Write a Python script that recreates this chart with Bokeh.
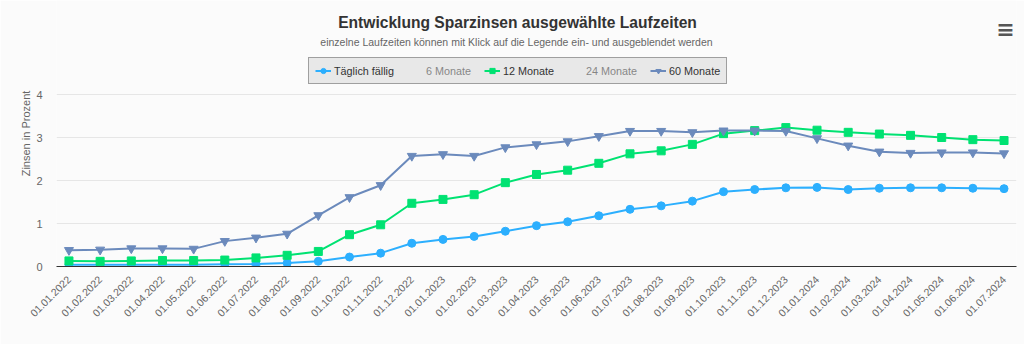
from bokeh.plotting import figure
from bokeh.models import (ColumnDataSource, FactorRange, Range1d, Legend, LegendItem,
                          Label, FixedTicker)
from bokeh.embed import file_html
from bokeh.resources import INLINE
import math

dates = ["01.01.2022", "01.02.2022", "01.03.2022", "01.04.2022", "01.05.2022", "01.06.2022",
         "01.07.2022", "01.08.2022", "01.09.2022", "01.10.2022", "01.11.2022", "01.12.2022",
         "01.01.2023", "01.02.2023", "01.03.2023", "01.04.2023", "01.05.2023", "01.06.2023",
         "01.07.2023", "01.08.2023", "01.09.2023", "01.10.2023", "01.11.2023", "01.12.2023",
         "01.01.2024", "01.02.2024", "01.03.2024", "01.04.2024", "01.05.2024", "01.06.2024",
         "01.07.2024"]

taeglich = [0.04, 0.04, 0.04, 0.04, 0.04, 0.05, 0.06, 0.08, 0.12, 0.22, 0.31, 0.54,
            0.63, 0.70, 0.82, 0.95, 1.04, 1.18, 1.33, 1.41, 1.52, 1.74, 1.79, 1.83,
            1.84, 1.79, 1.82, 1.83, 1.83, 1.82, 1.81]
sechs_monate = []      # hidden series (deselected in legend)
zwoelf_monate = [0.13, 0.12, 0.13, 0.14, 0.14, 0.15, 0.20, 0.26, 0.35, 0.74, 0.97, 1.47,
                 1.56, 1.67, 1.95, 2.14, 2.24, 2.40, 2.62, 2.69, 2.84, 3.09, 3.16, 3.23,
                 3.17, 3.12, 3.08, 3.05, 3.00, 2.95, 2.93]
vierundzwanzig_monate = []   # hidden series (deselected in legend)
sechzig_monate = [0.38, 0.39, 0.42, 0.42, 0.41, 0.59, 0.67, 0.76, 1.19, 1.61, 1.89, 2.57,
                  2.61, 2.57, 2.77, 2.84, 2.91, 3.03, 3.15, 3.15, 3.12, 3.16, 3.16, 3.15,
                  2.98, 2.81, 2.67, 2.64, 2.65, 2.65, 2.63]
y_ticks = [0, 1, 2, 3, 4]

series = [
    ("Täglich fällig", dates, taeglich, "#2caffe", "circle", 8, True),
    ("6 Monate", [], sechs_monate, "#544fc5", "diamond", 10, False),
    ("12 Monate", dates, zwoelf_monate, "#00e272", "square", 8, True),
    ("24 Monate", [], vierundzwanzig_monate, "#fe6a35", "triangle", 9, False),
    ("60 Monate", dates, sechzig_monate, "#6b8abc", "inverted_triangle", 9, True),
]

TITLE = "Entwicklung Sparzinsen ausgewählte Laufzeiten"
SUBTITLE = "einzelne Laufzeiten können mit Klick auf die Legende ein- und ausgeblendet werden"
FONT = "Liberation Sans"
BG = "#fbfbfb"
HIDDEN = "#999999"

# frame spans canvas x 56..1016, y 0..266 at 43 px per unit
FRAME_L, FRAME_R, FRAME_B = 56, 1016, 266
PAD = -0.1
X0 = -PAD / 2
X_SCALE = (FRAME_R - FRAME_L) / (len(dates) + PAD)
Y_SCALE = 43

def to_x(px):
    return X0 + (px - FRAME_L) / X_SCALE

def to_y(py):
    return (FRAME_B - py) / Y_SCALE

p = figure(width=1024, height=344,
           x_range=FactorRange(factors=dates, range_padding=PAD, range_padding_units="absolute"),
           y_range=Range1d(0, FRAME_B / Y_SCALE),
           output_backend="svg", toolbar_location=None,
           min_border_left=FRAME_L, min_border_right=1024 - FRAME_R,
           min_border_bottom=344 - FRAME_B, min_border_top=0)
p.title = None
p.background_fill_color = BG
p.border_fill_color = BG
p.outline_line_color = None

items = []
for name, xs, ys, color, marker, size, visible in series:
    src = ColumnDataSource(dict(x=xs, y=ys))
    r1 = p.line("x", "y", source=src, line_color=color, line_width=2)
    r2 = p.scatter("x", "y", source=src, marker=marker, size=size,
                   fill_color=color, line_color=color)
    r1.visible = visible
    r2.visible = visible
    items.append(LegendItem(label=name, renderers=[r1, r2]))

# axes
p.yaxis.ticker = FixedTicker(ticks=y_ticks)
p.yaxis.axis_line_color = None
p.yaxis.major_tick_line_color = None
p.yaxis.minor_tick_line_color = None
p.yaxis.major_label_text_color = "#666666"
p.yaxis.major_label_text_font = FONT
p.yaxis.major_label_text_font_size = "11px"
p.yaxis.major_label_standoff = 8
p.yaxis.axis_label = "Zinsen in Prozent"
p.yaxis.axis_label_text_font = FONT
p.yaxis.axis_label_text_font_size = "11px"
p.yaxis.axis_label_text_font_style = "normal"
p.yaxis.axis_label_text_color = "#666666"
p.yaxis.axis_label_standoff = 1

p.xaxis.axis_line_color = "#333333"
p.xaxis.axis_line_width = 1
p.xaxis.major_tick_line_color = None
p.xaxis.minor_tick_line_color = None
p.xaxis.major_label_orientation = math.pi / 4
p.xaxis.major_label_text_color = "#666666"
p.xaxis.major_label_text_font = FONT
p.xaxis.major_label_text_font_size = "10.5px"
p.xaxis.major_label_standoff = 5

p.xgrid.grid_line_color = None
p.ygrid.grid_line_color = "#e6e6e6"

# legend: bottom-left corner at canvas (308, 84) -> frame coords (252, 266-84)
legend = Legend(items=items, orientation="horizontal", location=(252, 182),
                background_fill_color="#e8e8e8", background_fill_alpha=1,
                border_line_color="#555555", border_line_width=1,
                label_text_font=FONT, label_text_font_size="10.8px",
                label_text_color="#333333",
                glyph_width=16, glyph_height=13, label_height=13,
                label_standoff=3, spacing=13, padding=6, margin=0,
                inactive_fill_color="#e8e8e8", inactive_fill_alpha=0.45,
                click_policy="hide")
p.add_layout(legend, "center")

# strike-through and grey symbols of the hidden (deselected) legend entries,
# drawn above the legend box
strike_left = [426, 584]
strike_right = [469, 636]
p.segment(x0=[to_x(v) for v in strike_left], x1=[to_x(v) for v in strike_right],
          y0=[to_y(71)] * 2, y1=[to_y(71)] * 2,
          line_color=HIDDEN, line_width=1, level="overlay")
sym_left = [408, 566]
p.segment(x0=[to_x(v) for v in sym_left], x1=[to_x(v + 16) for v in sym_left],
          y0=[to_y(71.5)] * 2, y1=[to_y(71.5)] * 2,
          line_color="#aaaaaa", line_width=2, level="overlay")
p.scatter(x=[to_x(v + 8) for v in sym_left], y=[to_y(71.5)] * 2,
          marker=["diamond", "triangle"], size=[9, 8],
          fill_color="#aaaaaa", line_color="#aaaaaa", level="overlay")

p.add_layout(Label(x=461, y=244, x_units="screen", y_units="screen", text=TITLE,
                   text_align="center", text_baseline="middle",
                   text_font=FONT, text_font_size="15.6px", text_font_style="bold",
                   text_color="#333333"))
p.add_layout(Label(x=460, y=225, x_units="screen", y_units="screen", text=SUBTITLE,
                   text_align="center", text_baseline="middle",
                   text_font=FONT, text_font_size="10.5px", text_color="#666666"))
p.add_layout(Label(x=949, y=237, x_units="screen", y_units="screen", text="≡",
                   text_align="center", text_baseline="middle",
                   text_font="DejaVu Sans", text_font_size="22px", text_color="#555555",
                   text_font_style="bold"))

open("out.html", "w").write(file_html(p, INLINE))
